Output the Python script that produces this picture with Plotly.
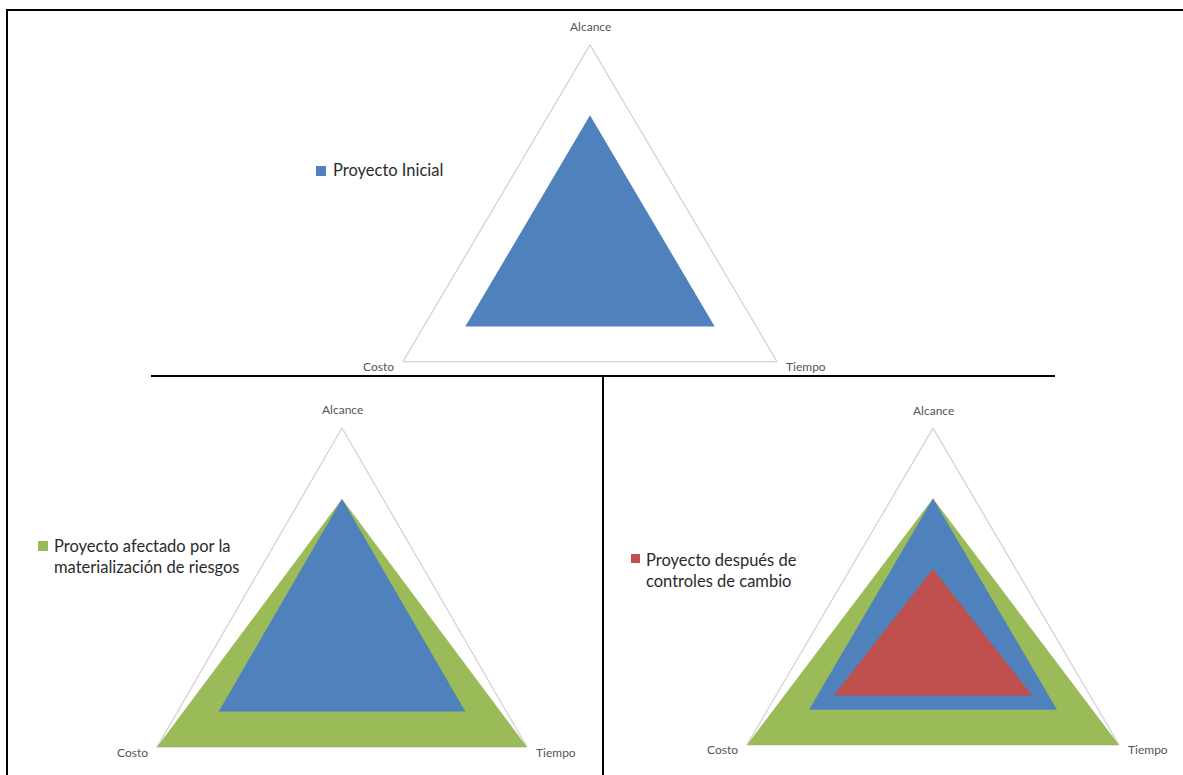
import numpy as np
import plotly.graph_objects as go

# ---------------- data ----------------
categories = ["Alcance", "Tiempo", "Costo"]
axis_max = 3
proyecto_inicial = [2, 2, 2]
proyecto_afectado = [2, 3, 3]
proyecto_despues = [1, 1.6, 1.6]

legend_inicial = "Proyecto Inicial"
legend_afectado = "Proyecto afectado por la<br>materialización de riesgos"
legend_despues = "Proyecto después de<br>controles de cambio"

# ---------------- style ----------------
BLUE, GREEN, RED = "#4F81BD", "#9BBB59", "#C0504D"
GRID = "#D4D4D4"
LABEL_COLOR = "#555555"
TEXT_COLOR = "#2b2b2b"
FONT = "Lato"
W, H = 1183, 775

# radar axes: first category at top, clockwise
angles = np.deg2rad(90 - 120 * np.arange(len(categories)))


def radar_xy(values):
    r = np.array(list(values) + [values[0]], dtype=float)
    a = np.append(angles, angles[0])
    return r * np.cos(a), r * np.sin(a)


panels = [
    dict(box=(0, 0, W, 376), center=(590, 256.1), scale=(72.0, 70.4),
         series=[(legend_inicial, proyecto_inicial, BLUE)],
         legend=(legend_inicial, BLUE, (316, 166, 326, 176), (331, 170.5))),
    dict(box=(0, 376, 603, H), center=(342, 640.7), scale=(71.2, 70.9),
         series=[(legend_afectado, proyecto_afectado, GREEN),
                 (legend_inicial, proyecto_inicial, BLUE)],
         legend=(legend_afectado, GREEN, (38, 541, 48, 551), (52, 556.5))),
    dict(box=(603, 376, W, H), center=(933, 639.3), scale=(71.6, 70.4),
         series=[(legend_afectado, proyecto_afectado, GREEN),
                 (legend_inicial, proyecto_inicial, BLUE),
                 (legend_despues, proyecto_despues, RED)],
         legend=(legend_despues, RED, (631, 554, 640, 563), (644, 570.5))),
]

fig = go.Figure()
layout_axes = {}
annotations = []
shapes = []


def px(x):
    return x / W


def py(y):
    return 1 - y / H


for i, p in enumerate(panels, start=1):
    sfx = "" if i == 1 else str(i)
    x0, y0, x1, y1 = p["box"]
    cx, cy = p["center"]
    sx, sy = p["scale"]
    layout_axes["xaxis" + sfx] = dict(
        domain=[px(x0), px(x1)], range=[(x0 - cx) / sx, (x1 - cx) / sx],
        visible=False, fixedrange=True, anchor="y" + sfx)
    layout_axes["yaxis" + sfx] = dict(
        domain=[py(y1), py(y0)], range=[(cy - y1) / sy, (cy - y0) / sy],
        visible=False, fixedrange=True, anchor="x" + sfx)

    # outer grid triangle
    gx, gy = radar_xy([axis_max] * len(categories))
    fig.add_trace(go.Scatter(x=gx, y=gy, mode="lines", xaxis="x" + sfx, yaxis="y" + sfx,
                             line=dict(color=GRID, width=1.3), hoverinfo="skip",
                             showlegend=False))
    # series
    for name, vals, color in p["series"]:
        tx, ty = radar_xy(vals)
        fig.add_trace(go.Scatter(x=tx, y=ty, mode="lines", fill="toself",
                                 fillcolor=color, line=dict(width=0, color=color),
                                 name=name.replace("<br>", " "),
                                 xaxis="x" + sfx, yaxis="y" + sfx, showlegend=False))
    # category labels
    for k, cat in enumerate(categories):
        ax_x = axis_max * np.cos(angles[k])
        ax_y = axis_max * np.sin(angles[k])
        c = np.cos(angles[k])
        if abs(c) < 1e-6:
            xa, xs, ys = "center", 0, 18
        elif c > 0:
            xa, xs, ys = "left", 7, -5
        else:
            xa, xs, ys = "right", -7, -5
        annotations.append(dict(x=ax_x, y=ax_y, xref="x" + sfx, yref="y" + sfx,
                                text=cat, showarrow=False, xanchor=xa, yanchor="middle",
                                xshift=xs, yshift=ys,
                                font=dict(family=FONT, size=12, color=LABEL_COLOR)))
    # legend
    ltext, lcolor, (qx0, qy0, qx1, qy1), (tx0, ty0) = p["legend"]
    shapes.append(dict(type="rect", xref="paper", yref="paper",
                       x0=px(qx0), x1=px(qx1), y0=py(qy1), y1=py(qy0),
                       fillcolor=lcolor, line=dict(width=0)))
    annotations.append(dict(x=px(tx0), y=py(ty0), xref="paper", yref="paper",
                            text=ltext, showarrow=False, xanchor="left", yanchor="middle",
                            align="left", font=dict(family=FONT, size=16.5, color=TEXT_COLOR)))

# panel border lines
borders = [((6, 10), (1183, 10)), ((7, 10), (7, 775)),
           ((151, 376), (1055, 376)), ((603, 376), (603, 775))]
for (ax0, ay0), (ax1, ay1) in borders:
    shapes.append(dict(type="line", xref="paper", yref="paper",
                       x0=px(ax0), y0=py(ay0), x1=px(ax1), y1=py(ay1),
                       line=dict(color="#000000", width=2)))

fig.update_layout(
    width=W, height=H, margin=dict(l=0, r=0, t=0, b=0),
    paper_bgcolor="white", plot_bgcolor="white",
    showlegend=False, annotations=annotations, shapes=shapes,
    **layout_axes,
)

fig.write_html("out.html")
